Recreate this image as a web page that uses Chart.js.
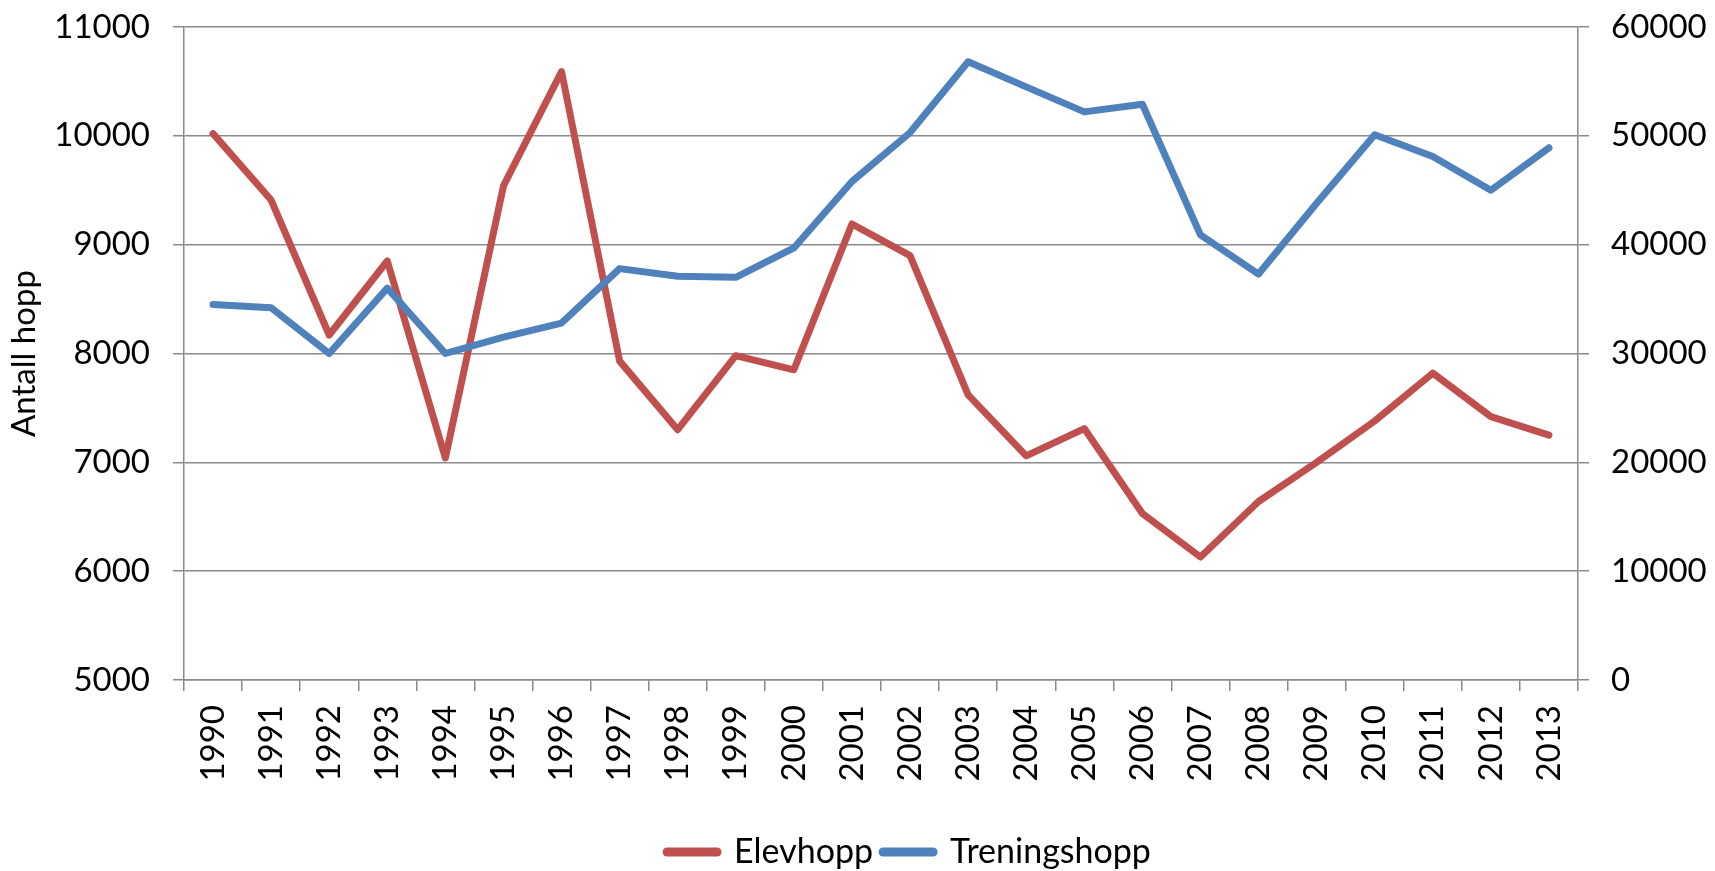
<!DOCTYPE html>
<html>
<head>
<meta charset="utf-8">
<script src="https://cdn.jsdelivr.net/npm/chart.js@4.4.1/dist/chart.umd.min.js"></script>
<style>
  html, body { margin: 0; padding: 0; background: #fff; }
  #wrap { width: 1715px; height: 871px; }
</style>
</head>
<body>
<div id="wrap"><canvas id="c" width="1715" height="871"></canvas></div>
<script>
const years = ['1990','1991','1992','1993','1994','1995','1996','1997','1998','1999','2000','2001','2002','2003','2004','2005','2006','2007','2008','2009','2010','2011','2012','2013'];
const elevhopp = [10020, 9410, 8170, 8850, 7040, 9540, 10590, 7930, 7300, 7980, 7850, 9190, 8900, 7620, 7060, 7310, 6530, 6130, 6640, 7000, 7380, 7820, 7420, 7250];
const treningshopp = [34500, 34200, 30000, 36000, 30000, 31500, 32800, 37800, 37100, 37000, 39700, 45800, 50300, 56800, 54500, 52200, 52900, 40900, 37300, 43800, 50100, 48100, 45000, 48900];
const leftTicks = [5000, 6000, 7000, 8000, 9000, 10000, 11000];
const rightTicks = [0, 10000, 20000, 30000, 40000, 50000, 60000];
const seriesNames = ['Elevhopp', 'Treningshopp'];
const axisTitle = 'Antall hopp';

const RED = '#C0504D', BLUE = '#4F81BD', GRID = '#8a8a8a';
const FONT = 'Lato';
const plain = (v) => String(v);

new Chart(document.getElementById('c'), {
  type: 'line',
  data: {
    labels: years,
    datasets: [
      { label: seriesNames[0], data: elevhopp, yAxisID: 'y', borderColor: RED, backgroundColor: RED,
        borderWidth: 7, pointRadius: 0, tension: 0, borderJoinStyle: 'round', borderCapStyle: 'round', order: 2 },
      { label: seriesNames[1], data: treningshopp, yAxisID: 'y1', borderColor: BLUE, backgroundColor: BLUE,
        borderWidth: 7, pointRadius: 0, tension: 0, borderJoinStyle: 'round', borderCapStyle: 'round', order: 1 }
    ]
  },
  options: {
    responsive: false,
    animation: false,
    events: [],
    layout: { padding: { top: 27, left: 0, right: -103, bottom: -8 } },
    plugins: {
      tooltip: { enabled: false },
      legend: {
        position: 'bottom',
        labels: {
          font: { family: FONT, size: 34 },
          color: '#000',
          usePointStyle: true,
          pointStyleWidth: 50,
          padding: 10,
          sort: (a, b) => a.datasetIndex - b.datasetIndex,
          generateLabels: (chart) => chart.data.datasets.map((ds, i) => ({
            text: ds.label, datasetIndex: i, fillStyle: ds.borderColor, strokeStyle: ds.borderColor,
            lineWidth: 9, lineCap: 'round', pointStyle: 'line', hidden: false
          }))
        }
      }
    },
    scales: {
      x: {
        offset: true,
        grid: { display: true, drawOnChartArea: false, drawTicks: true, tickLength: 11, offset: true, color: GRID, lineWidth: 1.5 },
        border: { display: true, color: GRID, width: 1.5 },
        ticks: { minRotation: 90, maxRotation: 90, autoSkip: false, padding: 14, color: '#000', font: { family: FONT, size: 33 } },
        afterFit: (s) => { s.height = 145; }
      },
      y: {
        position: 'left',
        min: leftTicks[0], max: leftTicks[leftTicks.length - 1],
        afterBuildTicks: (s) => { s.ticks = leftTicks.map(v => ({ value: v })); },
        grid: { color: GRID, lineWidth: 1.5, tickLength: 11 },
        border: { display: true, color: GRID, width: 1.5 },
        ticks: { padding: 23, color: '#000', font: { family: FONT, size: 33 }, callback: plain },
        title: { display: true, text: axisTitle, color: '#000', font: { family: FONT, size: 33 }, padding: { top: 5, bottom: 0 } },
        afterFit: (s) => { s.width = 184; s.paddingTop = 0; s.paddingBottom = 0; }
      },
      y1: {
        position: 'right',
        min: rightTicks[0], max: rightTicks[rightTicks.length - 1],
        afterBuildTicks: (s) => { s.ticks = rightTicks.map(v => ({ value: v })); },
        grid: { drawOnChartArea: false, color: GRID, lineWidth: 1.5, tickLength: 11 },
        border: { display: true, color: GRID, width: 1.5 },
        ticks: { padding: 22, color: '#000', font: { family: FONT, size: 33 }, callback: plain },
        afterFit: (s) => { s.width = 240; s.paddingTop = 0; s.paddingBottom = 0; }
      }
    }
  }
});
</script>
</body>
</html>
